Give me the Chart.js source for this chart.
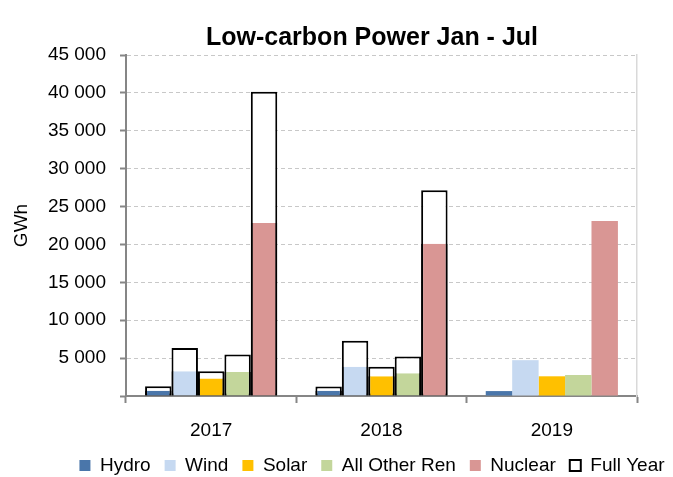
<!DOCTYPE html>
<html>
<head>
<meta charset="utf-8">
<script src="https://cdn.jsdelivr.net/npm/chart.js@4.4.1/dist/chart.umd.min.js"></script>
<style>
  html, body { margin: 0; padding: 0; background: #fff; }
  #wrap { width: 673px; height: 477px; }
</style>
</head>
<body>
<div id="wrap"><canvas id="chart"></canvas></div>
<script>
const years = ['2017', '2018', '2019'];
const seriesNames = ['Hydro', 'Wind', 'Solar', 'All Other Ren', 'Nuclear'];
const seriesColors = ['#4a76aa', '#c6d9f1', '#ffc000', '#c3d69b', '#d99694'];

// Jan - Jul, GWh
const hydro = [700, 700, 650];
const wind = [3250, 3870, 4730];
const solar = [2300, 2600, 2600];
const otherRen = [3170, 3000, 2770];
const nuclear = [22830, 20100, 23080];

// full year, GWh (none yet for 2019)
const hydroFull = [1300, 1270, null];
const windFull = [6340, 7300, null];
const solarFull = [3250, 3870, null];
const otherRenFull = [5470, 5220, null];
const nuclearFull = [40150, 27150, null];

const yTicks = [0, 5000, 10000, 15000, 20000, 25000, 30000, 35000, 40000, 45000];

const partial = [hydro, wind, solar, otherRen, nuclear];
const full = [hydroFull, windFull, solarFull, otherRenFull, nuclearFull];

const FONT = "'Liberation Sans', Arial, sans-serif";
const AXIS = '#868686';

const fmt = v => v === 0 ? '' : String(v).replace(/\B(?=(\d{3})+(?!\d))/g, ' ');

const datasets = [];
partial.forEach((vals, i) => {
  const fy = full[i];
  datasets.push({
    label: seriesNames[i],
    data: vals,
    stack: 's' + i,
    order: 1,
    backgroundColor: seriesColors[i],
    borderColor: '#000',
    // keep the full-year outline visible along the sides
    borderWidth: ctx => fy[ctx.dataIndex] != null ? { left: 2, right: 2, top: 0, bottom: 0 } : 0,
    borderSkipped: false
  });
});
full.forEach((vals, i) => {
  datasets.push({
    label: 'Full Year',
    data: vals,
    stack: 's' + i,
    order: 2,
    backgroundColor: '#fff',
    borderColor: '#000',
    borderWidth: 2,
    borderSkipped: false
  });
});

new Chart(document.getElementById('chart'), {
  type: 'bar',
  data: { labels: years, datasets },
  options: {
    responsive: true,
    maintainAspectRatio: false,
    animation: false,
    categoryPercentage: 0.776,
    barPercentage: 1,
    layout: { padding: { left: 8, right: -63, top: 0, bottom: -8 } },
    plugins: {
      title: {
        display: true,
        text: 'Low-carbon Power Jan - Jul',
        color: '#000',
        font: { family: FONT, size: 25, weight: 'bold' },
        padding: { top: 23, bottom: 2 }
      },
      legend: {
        position: 'bottom',
        align: 'center',
        labels: {
          color: '#000',
          font: { family: FONT, size: 19 },
          boxWidth: 11,
          boxHeight: 11,
          padding: 14,
          filter: item => {
            item.lineWidth = item.text === 'Full Year' ? 2 : 0;
            return item.text !== 'Full Year' || item.datasetIndex === 5;
          }
        }
      },
      tooltip: { enabled: false }
    },
    scales: {
      x: {
        stacked: true,
        grid: {
          display: true,
          offset: true,
          drawOnChartArea: false,
          drawTicks: true,
          tickLength: 7,
          tickColor: AXIS,
          tickWidth: 2
        },
        border: { display: true, color: AXIS, width: 2 },
        ticks: {
          color: '#000',
          font: { family: FONT, size: 19 },
          padding: 16
        },
        afterFit: s => { s.height = 46; }
      },
      y: {
        stacked: false,
        min: yTicks[0],
        max: yTicks[yTicks.length - 1],
        afterBuildTicks: s => { s.ticks = yTicks.map(v => ({ value: v })); },
        grid: {
          color: '#c8c8c8',
          lineWidth: 1,
          drawTicks: true,
          tickLength: 6,
          tickColor: AXIS,
          tickWidth: 2,
          tickBorderDash: []
        },
        border: { display: true, color: AXIS, width: 2, dash: [4, 3] },
        ticks: {
          color: '#000',
          font: { family: FONT, size: 19 },
          padding: 14,
          callback: v => fmt(v)
        },
        title: {
          display: true,
          text: 'GWh',
          color: '#000',
          font: { family: FONT, size: 19 },
          padding: { top: 2, bottom: 0 }
        },
        afterFit: s => { s.width = 118; }
      },
      y2: {
        position: 'right',
        display: true,
        grid: { display: false, drawTicks: false },
        ticks: { display: false },
        border: { display: true, color: '#d9d9d9', width: 1.5 },
        afterFit: s => { s.width = 99; }
      }
    }
  }
});
</script>
</body>
</html>
